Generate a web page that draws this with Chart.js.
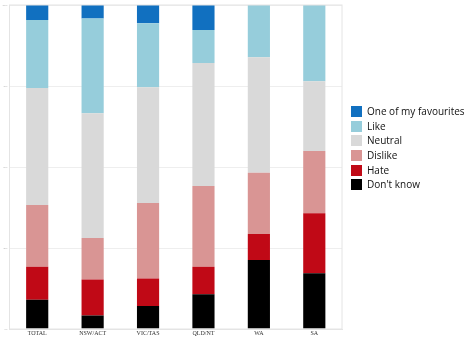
<!DOCTYPE html>
<html>
<head>
<meta charset="utf-8">
<script src="https://cdn.jsdelivr.net/npm/chart.js@4"></script>
<style>
  html, body { margin: 0; padding: 0; background: #fff; }
  #wrap { position: relative; width: 468px; height: 337px; }
  #legend { position: absolute; left: 351px; top: 104px; font-family: 'Open Sans', sans-serif; font-size: 10px; color: #111; }
  #legend div { height: 14.7px; line-height: 14.7px; white-space: nowrap; }
  #legend span { display: inline-block; width: 11px; height: 11px; vertical-align: -2px; margin-right: 5px; }
</style>
</head>
<body>
<div id="wrap">
  <canvas id="c" width="468" height="337"></canvas>
  <div id="legend"></div>
</div>
<script>
// ── DATA ──────────────────────────────────────────────
const regions    = ['TOTAL', 'NSW/ACT', 'VIC/TAS', 'QLD/NT', 'WA', 'SA'];
const dontKnow   = [9.0, 4.2, 7.1, 10.7, 21.3, 17.2];
const hate       = [10.2, 11.1, 8.5, 8.5, 8.0, 18.5];
const dislike    = [19.1, 12.8, 23.3, 24.9, 18.9, 19.2];
const neutral    = [36.1, 38.5, 35.7, 38.0, 35.7, 21.6];
const like       = [21.0, 29.2, 19.8, 10.2, 16.1, 23.5];
const favourite  = [4.6, 4.2, 5.6, 7.7, 0, 0];
const yTicks     = [0, 25, 50, 75, 100];

// bottom → top stacking order
const series = [
  { label: "Don't know",          data: dontKnow,  color: '#000000' },
  { label: 'Hate',                data: hate,      color: '#c00916' },
  { label: 'Dislike',             data: dislike,   color: '#d99594' },
  { label: 'Neutral',             data: neutral,   color: '#d9d9d9' },
  { label: 'Like',                data: like,      color: '#96cddb' },
  { label: 'One of my favourites', data: favourite, color: '#1170c0' },
];

// frame round the plot area
const frame = {
  id: 'frame',
  afterDraw(chart) {
    const { ctx, chartArea: a } = chart;
    ctx.save();
    ctx.strokeStyle = '#e4e4e4';
    ctx.lineWidth = 1;
    ctx.strokeRect(a.left, a.top, a.right - a.left, a.bottom - a.top);
    ctx.restore();
  }
};

new Chart(document.getElementById('c'), {
  type: 'bar',
  data: {
    labels: regions,
    datasets: series.map(s => ({
      label: s.label,
      data: s.data,
      backgroundColor: s.color,
      borderWidth: 0,
      barPercentage: 0.4,
      categoryPercentage: 1,
    })),
  },
  options: {
    responsive: false,
    animation: false,
    layout: { padding: { top: 5, right: 126, left: 0, bottom: 0 } },
    plugins: { legend: { display: false }, tooltip: { enabled: false } },
    scales: {
      x: {
        stacked: true,
        grid: { display: false, drawTicks: false },
        border: { color: '#e4e4e4' },
        ticks: {
          font: { family: 'Liberation Serif', size: 6, lineHeight: 1.2 },
          color: '#333', padding: 1, maxRotation: 0, autoSkip: false,
        },
        afterFit: s => { s.height = 8; },
      },
      y: {
        stacked: true,
        min: 0, max: 100,
        afterBuildTicks: s => { s.ticks = yTicks.map(v => ({ value: v })); },
        grid: { color: '#eeeeee', drawTicks: false },
        border: { color: '#e4e4e4' },
        ticks: { font: { size: 2 }, color: '#aaa', padding: 2, callback: v => v + '%' },
        afterFit: s => { s.width = 9.5; },
      },
    },
  },
  plugins: [frame],
});

// HTML legend, top → bottom
document.getElementById('legend').innerHTML = series.slice().reverse()
  .map(s => `<div><span style="background:${s.color}"></span>${s.label}</div>`).join('');
</script>
</body>
</html>
